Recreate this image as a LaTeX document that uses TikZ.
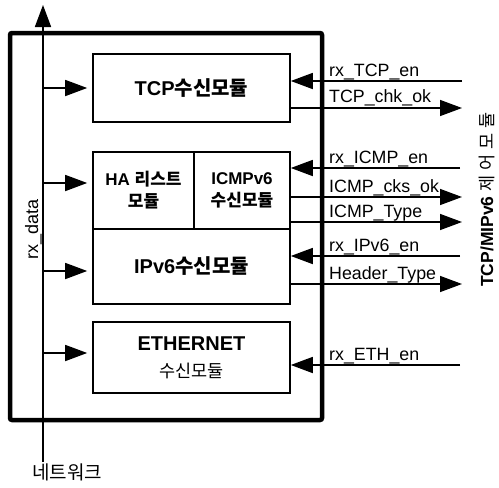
\documentclass[tikz,border=0pt]{standalone}
\usepackage{fontspec}
\setmainfont{Liberation Sans}
\newfontfamily\kr{Noto Sans CJK KR}
\usetikzlibrary{arrows.meta}
\begin{document}
\begin{tikzpicture}[x=1pt,y=-1pt,
  blk/.style={draw,line width=1.6pt,inner sep=0pt,align=center},
  big/.style={font=\fontsize{20}{24}\selectfont\bfseries},
  mid/.style={font=\fontsize{17}{22}\selectfont\bfseries},
  sig/.style={line width=1.5pt},
  tipr/.style={-{Triangle[length=22pt,width=16pt]}},
  lab/.style={font=\fontsize{17.8}{20}\selectfont, anchor=base west, inner sep=0pt}
]
\useasboundingbox (0,0) rectangle (499,488);
% outer module
\node[draw, line width=4.5pt, rounded corners=2pt, minimum width=312pt, minimum height=387pt, inner sep=0pt] (outer) at (166,226.5) {};
% inner blocks
\node[blk,big,minimum width=197pt,minimum height=68pt] (tcp) at (191.5,88) {TCP{\kr 수신모듈}};
\node[blk,mid,minimum width=101pt,minimum height=77pt] (ha) at (143.5,190.5) {HA {\kr 리스트}\\{\kr 모듈}};
\node[blk,mid,minimum width=96pt,minimum height=77pt] (icmp) at (242,190.5) {ICMPv6\\{\kr 수신모듈}};
\node[blk,big,minimum width=197pt,minimum height=75pt] (ipv6) at (191.5,266.5) {IPv6{\kr 수신모듈}};
\node[blk,font=\fontsize{20}{27}\selectfont,minimum width=197pt,minimum height=71pt] (eth) at (191.5,357.5) {\textbf{ETHERNET}\\{\fontsize{17.5}{27}\selectfont\kr 수신모듈}};
% rx_data bus
\node (net) at (67,472) {\fontsize{19}{22}\selectfont\kr 네트워크};
\coordinate (busbot) at (43,462);
\coordinate (bustop) at (43,5);
\draw[line width=1.8pt,tipr] (busbot) -- (bustop);
\node[rotate=90,anchor=base,inner sep=0pt,font=\fontsize{18}{20}\selectfont] (rxdata) at (38,229) {rx\_data};
\coordinate (d1) at (43,88);
\coordinate (d2) at (43,183);
\coordinate (d3) at (43,271);
\coordinate (d4) at (43,353);
\draw[sig,tipr,shorten >=5pt] (d1) -- (d1 -| tcp.west);
\draw[sig,tipr,shorten >=5pt] (d2) -- (d2 -| ha.west);
\draw[sig,tipr,shorten >=5pt] (d3) -- (d3 -| ipv6.west);
\draw[sig,tipr,shorten >=5pt] (d4) -- (d4 -| eth.west);
% right side signals
\coordinate (s1) at (462,81);
\coordinate (s2) at (462,108);
\coordinate (s3) at (460,168);
\coordinate (s4) at (462,197);
\coordinate (s5) at (462,222);
\coordinate (s6) at (460,256);
\coordinate (s7) at (462,284);
\coordinate (s8) at (460,365);
\draw[sig,tipr] (s1) -- (s1 -| tcp.east);
\draw[sig,tipr] (s2 -| tcp.east) -- (s2);
\draw[sig,tipr] (s3) -- (s3 -| icmp.east);
\draw[sig,tipr] (s4 -| icmp.east) -- (s4);
\draw[sig,tipr] (s5 -| icmp.east) -- (s5);
\draw[sig,tipr] (s6) -- (s6 -| ipv6.east);
\draw[sig,tipr] (s7 -| ipv6.east) -- (s7);
\draw[sig,tipr] (s8) -- (s8 -| eth.east);
\node[lab] (l1) at (329,76) {rx\_TCP\_en};
\node[lab] (l2) at (329,102) {TCP\_chk\_ok};
\node[lab] (l3) at (329,163) {rx\_ICMP\_en};
\node[lab] (l4) at (329,192) {ICMP\_cks\_ok};
\node[lab] (l5) at (329,217) {ICMP\_Type};
\node[lab] (l6) at (329,251) {rx\_IPv6\_en};
\node[lab] (l7) at (329,279) {Header\_Type};
\node[lab] (l8) at (329,360) {rx\_ETH\_en};
% controller label
\node[rotate=90,anchor=base west,inner sep=0pt,font=\fontsize{17.5}{20}\selectfont\bfseries] (ctrl) at (493,287) {TCP/MIPv6 {\mdseries\kr 제\hspace{5pt}어\hspace{5pt}모\hspace{5pt}듈}};
\end{tikzpicture}
\end{document}
